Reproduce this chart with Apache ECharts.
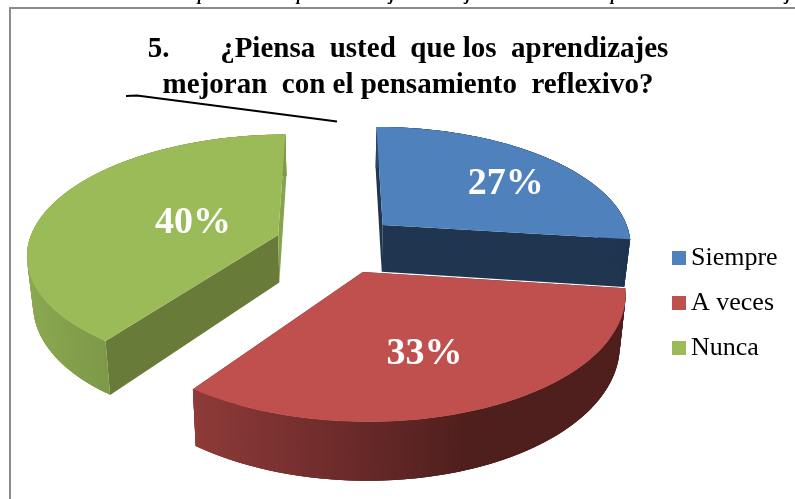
<!DOCTYPE html>
<html>
<head>
<meta charset="utf-8">
<style>
  html, body { margin: 0; padding: 0; background: #fff; }
  #chart { width: 795px; height: 499px; }
</style>
<script src="https://cdn.jsdelivr.net/npm/echarts@6/dist/echarts.min.js"></script>
</head>
<body>
<div id="chart"></div>
<script>
const categories = ["Siempre", "A veces", "Nunca"];
const percents = [27, 33, 40];

const topColors = ["#4f81bd", "#c0504d", "#9bbb59"];
const startFaceColors = ["#1f3550", "#4f1f1e", "#687b38"];
const endFaceColors = ["#1f3550", "#4f1f1e", "#84a54b"];
const rimStops = [
  [[0, "#2a4566"], [1, "#1f3550"]],
  [[0, "#8f3b39"], [0.64, "#4f1f1e"], [1, "#4f1f1e"]],
  [[0, "#8ba851"], [0.3, "#7e9948"], [1, "#7e9948"]],
];
const labelReach = [0.74, 0.58, 0.4];
const labelNudge = [[0, 11], [-6, 9], [6, 2]];
const titleLines = [
  "5.       ¿Piensa  usted  que los  aprendizajes",
  "mejoran  con el pensamiento  reflexivo?",
];
// tails of the line of text cut off by the top of the picture
const cutGlyphs = ["p", "p", "j", "j", "p", "j"];
const cutGlyphX = [202, 301, 392, 468, 615, 788];

// tilted, exploded disc as Excel draws it
const view = { vx: 334, c0: 3, y0: 244, a: 250, b: 118, k: 0.15, depth: 48, squeeze: 0.98, explode: 0.25 };

const project = (u, v) => {
  const s = 1 / (1 + view.k * v);
  return [view.vx + (view.c0 + view.a * u) * s, view.y0 - view.b * v * s, s];
};

const lower = (p) => [
  view.vx + (p[0] - view.vx) * view.squeeze,
  p[1] + view.depth * p[2],
];

const rimColor = (stops, t) => {
  for (let i = 1; i < stops.length; i++) {
    if (t <= stops[i][0]) {
      const f = (t - stops[i - 1][0]) / (stops[i][0] - stops[i - 1][0]);
      return echarts.color.lerp(Math.max(f, 0), [stops[i - 1][1], stops[i][1]]);
    }
  }
  return stops[stops.length - 1][1];
};

const total = percents.reduce((sum, p) => sum + p, 0);

const renderSlice = (index) => (params, api) => {
  const value = api.value(0);
  const before = percents.slice(0, index).reduce((sum, p) => sum + p, 0);
  const start = (before / total) * Math.PI * 2;
  const end = ((before + value) / total) * Math.PI * 2;
  const mid = (start + end) / 2;
  const u0 = Math.sin(mid) * view.explode;
  const v0 = Math.cos(mid) * view.explode;

  const apex = project(u0, v0);
  const rim = [];
  for (let i = 0; i <= 120; i++) {
    const t = start + ((end - start) * i) / 120;
    rim.push(project(u0 + Math.sin(t), v0 + Math.cos(t)));
  }
  const first = rim[0];
  const last = rim[rim.length - 1];
  const flat = (list) => list.map((p) => [p[0], p[1]]);

  const xs = rim.map((p) => p[0]);
  const minX = Math.min(...xs);
  const maxX = Math.max(...xs);

  // rim as overlapping strips so no seams show between them
  const strips = [];
  for (let i = 0; i < rim.length - 1; i++) {
    const next = rim[Math.min(i + 3, rim.length - 1)];
    const color = rimColor(rimStops[index], (rim[i][0] - minX) / (maxX - minX));
    strips.push({
      type: "polygon",
      shape: {
        points: [rim[i].slice(0, 2), next.slice(0, 2), lower(next), lower(rim[i])],
      },
      style: { fill: color },
    });
  }

  const reach = labelReach[index];
  const labelAt = project(u0 + Math.sin(mid) * reach, v0 + Math.cos(mid) * reach);

  return {
    type: "group",
    children: [
      {
        type: "polygon",
        shape: { points: [first.slice(0, 2), apex.slice(0, 2), lower(apex), lower(first)] },
        style: { fill: startFaceColors[index] },
      },
      {
        type: "polygon",
        shape: { points: [last.slice(0, 2), apex.slice(0, 2), lower(apex), lower(last)] },
        style: { fill: endFaceColors[index] },
      },
      ...strips,
      {
        type: "polygon",
        shape: { points: [apex.slice(0, 2)].concat(flat(rim)) },
        style: { fill: topColors[index] },
      },
      {
        type: "text",
        style: {
          text: value + "%",
          x: labelAt[0] + labelNudge[index][0],
          y: labelAt[1] + labelNudge[index][1],
          fill: "#fff",
          font: 'bold 38px "Liberation Serif"',
          align: "center",
          verticalAlign: "middle",
        },
      },
    ],
  };
};

const chart = echarts.init(document.getElementById("chart"), null, { renderer: "canvas" });

chart.setOption({
  animation: false,
  backgroundColor: "#fff",
  color: topColors,
  title: {
    text: titleLines.join("\n"),
    left: 403,
    top: 27,
    textAlign: "center",
    textStyle: {
      fontFamily: "Liberation Serif",
      fontWeight: "bold",
      fontSize: 29,
      lineHeight: 36,
      color: "#000",
    },
  },
  legend: {
    orient: "vertical",
    left: 667,
    top: 238,
    itemWidth: 14,
    itemHeight: 14,
    itemGap: 15,
    icon: "rect",
    data: categories,
    selectedMode: false,
    textStyle: {
      fontFamily: "Liberation Serif",
      fontSize: 26,
      lineHeight: 30,
      color: "#000",
    },
  },
  graphic: [
    {
      type: "polyline",
      silent: true,
      shape: { points: [[10, 499], [10, 8], [795, 8]] },
      style: { stroke: "#8c8c8c", lineWidth: 2, fill: null },
    },
    {
      type: "polyline",
      silent: true,
      shape: { points: [[126, 96], [137, 95.5], [337, 121.5]] },
      style: { stroke: "#000", lineWidth: 2, fill: null },
    },
    ...cutGlyphs.map((glyph, i) => ({
      type: "text",
      silent: true,
      style: {
        text: glyph,
        x: cutGlyphX[i],
        y: 4,
        fill: "#000",
        font: 'italic bold 17px "Liberation Serif"',
        align: "center",
        verticalAlign: "bottom",
      },
    })),
  ],
  series: categories.map((name, i) => ({
    name: name,
    type: "custom",
    coordinateSystem: "none",
    silent: true,
    data: [percents[i]],
    renderItem: renderSlice(i),
  })),
});
</script>
</body>
</html>
